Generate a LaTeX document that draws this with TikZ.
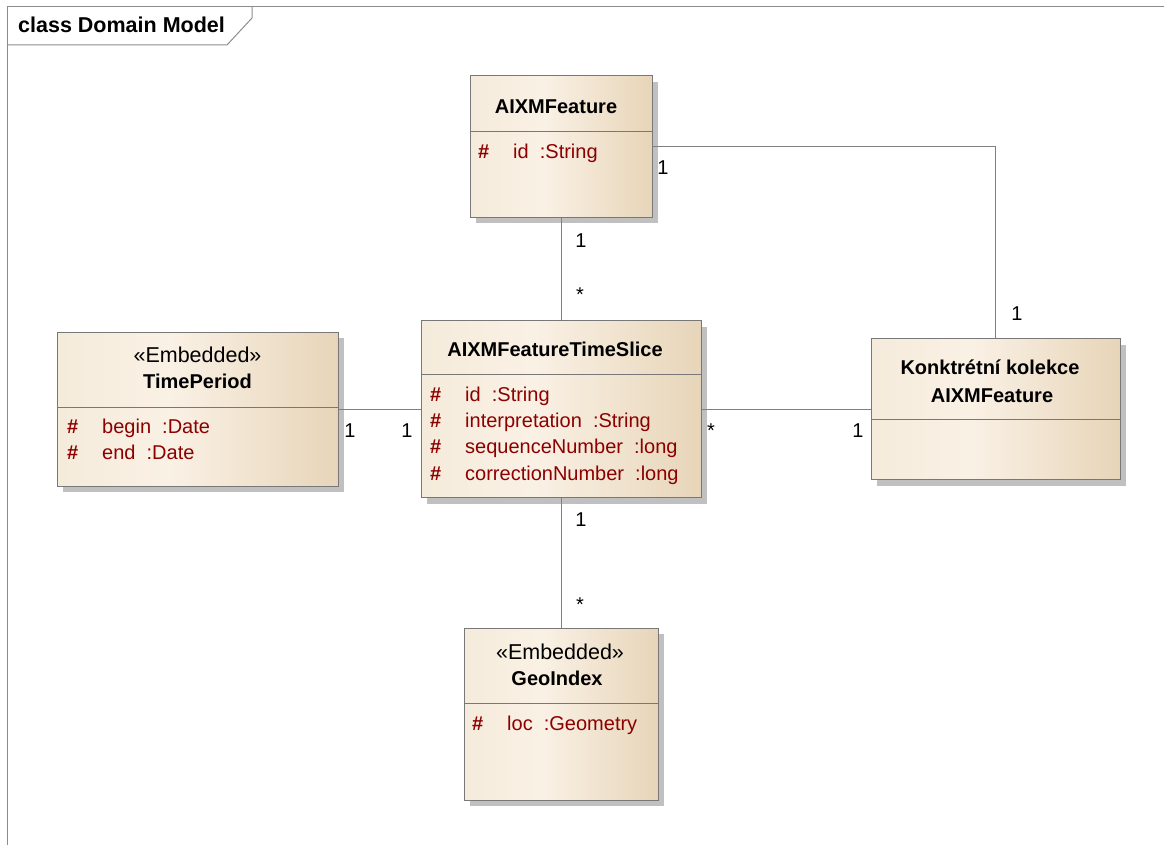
\documentclass[tikz,border=0pt]{standalone}
\usepackage{fontspec}
\setmainfont{Liberation Sans}
\usetikzlibrary{positioning,shadows}
\definecolor{umlleft}  {RGB}{245,235,219}
\definecolor{umlmid}   {RGB}{250,241,229}
\definecolor{umlright} {RGB}{231,213,185}
\definecolor{umlborder}{RGB}{120,120,120}
\definecolor{umlline}  {RGB}{128,128,128}
\definecolor{umlshadow}{RGB}{192,192,192}
\definecolor{umlred}   {RGB}{140,  0,  0}
\definecolor{framegray}{RGB}{140,140,140}
\pgfdeclarehorizontalshading{umlfill}{100bp}{color(0bp)=(umlleft); color(25bp)=(umlleft);
  color(45bp)=(umlmid); color(75bp)=(umlright); color(100bp)=(umlright)}
\newcommand\umlfont{\fontsize{20}{24}\selectfont}
\newcommand\prot[1]{\makebox[35pt][l]{\bfseries\#}#1}
\tikzset{
  cls/.style={draw=umlborder,line width=1pt,shade,shading=umlfill,inner sep=0pt,
              drop shadow={shadow xshift=6pt,shadow yshift=-6pt,fill=umlshadow,opacity=1}},
  sep/.style={draw=umlborder,line width=1pt},
  assoc/.style={draw=umlline,line width=1pt},
  frm/.style={draw=framegray,line width=1pt},
  ttl/.style={font=\fontsize{21.5}{25}\selectfont\bfseries,anchor=base west,inner sep=0pt},
  cname/.style={font=\umlfont\bfseries,anchor=base,inner sep=0pt},
  stereo/.style={font=\fontsize{21.5}{25}\selectfont,anchor=base,inner sep=0pt},
  attr/.style={font=\umlfont,text=umlred,anchor=base west,inner sep=0pt},
  mult/.style={font=\umlfont,anchor=base,inner sep=0pt},
}

\begin{document}
\begin{tikzpicture}[x=1pt,y=-1pt]
  \useasboundingbox (0,0) rectangle (1164,845);
  \draw[frm] (7,845) -- (7,7) -- (1164,7);
  \draw[frm] (7,45) -- (227,45) -- (252,18) -- (252,7);
  \node[ttl](DM) at (18,33) {class Domain Model};

  \node[cls,minimum width=182,minimum height=141](AF) at (561,146.5) {};
  \node[cls,minimum width=280,minimum height=177](TS) at (561,409) {};
  \node[cls,minimum width=281,minimum height=154](TP) at (197.5,409) {};
  \node[cls,minimum width=249,minimum height=141](KK) at (995.5,409) {};
  \node[cls,minimum width=194,minimum height=172](GI) at (561,714) {};

  \draw[sep] (AF.west |- 0,132) -- (AF.east |- 0,132);
  \draw[sep] (TS.west |- 0,374) -- (TS.east |- 0,374);
  \draw[sep] (TP.west |- 0,407) -- (TP.east |- 0,407);
  \draw[sep] (KK.west |- 0,419) -- (KK.east |- 0,419);
  \draw[sep] (GI.west |- 0,703) -- (GI.east |- 0,703);

  \node[cname](AFn) at (556,114) {AIXMFeature};
  \node[attr](AFa) at (478,159) {\prot{id\ \ :String}};

  \node[cname](TSn) at (555,356) {AIXMFeatureTimeSlice};
  \node[attr](TSa) at (430,401) {\prot{id\ \ :String}};
  \node[attr](TSb) at (430,427) {\prot{interpretation\ \ :String}};
  \node[attr](TSc) at (430,453) {\prot{sequenceNumber\ \ :long}};
  \node[attr](TSd) at (430,480) {\prot{correctionNumber\ \ :long}};

  \node[stereo](TPs) at (197.5,362) {«Embedded»};
  \node[cname](TPn) at (197.5,388) {TimePeriod};
  \node[attr](TPa) at (67,433) {\prot{begin\ \ :Date}};
  \node[attr](TPb) at (67,459) {\prot{end\ \ :Date}};

  \node[cname](KKn) at (990,374) {Konktrétní kolekce};
  \node[cname](KKm) at (992,402) {AIXMFeature};

  \node[stereo](GIs) at (560,659) {«Embedded»};
  \node[cname](GIn) at (557,685) {GeoIndex};
  \node[attr](GIa) at (472,730) {\prot{loc\ \ :Geometry}};

  \draw[assoc] (AF.south) -- (TS.north);
  \draw[assoc] (AF.east) -| (KK.north);
  \draw[assoc] (TP.east) -- (TS.west);
  \draw[assoc] (TS.east) -- (KK.west);
  \draw[assoc] (TS.south) -- (GI.north);

  \node[mult](m1) at (581,247) {1};
  \node[mult](m2) at (580,301) {*};
  \node[mult](m3) at (663,175) {1};
  \node[mult](m4) at (1017,320) {1};
  \node[mult](m5) at (350,437) {1};
  \node[mult](m6) at (407,437) {1};
  \node[mult](m7) at (711,437) {*};
  \node[mult](m8) at (858,437) {1};
  \node[mult](m9) at (581,526) {1};
  \node[mult](m10) at (580,611) {*};
\end{tikzpicture}
\end{document}
